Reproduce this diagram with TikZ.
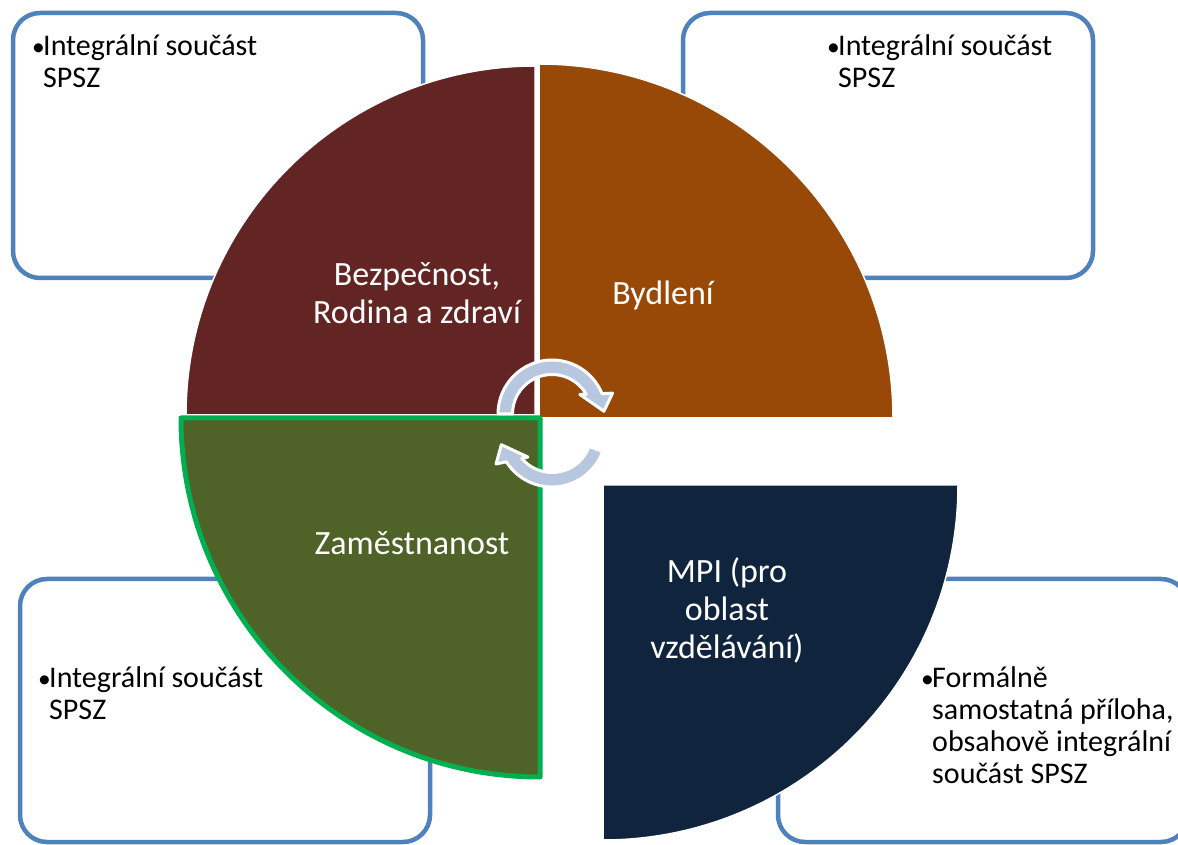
\documentclass[tikz,border=0pt]{standalone}
\usepackage{fontspec}
\setmainfont{Carlito}
\usetikzlibrary{calc}
\definecolor{maroonq}{HTML}{632523}
\definecolor{brownq}{HTML}{984807}
\definecolor{oliveq}{HTML}{4F6228}
\definecolor{greenb}{HTML}{00B050}
\definecolor{navyq}{HTML}{10243E}
\definecolor{boxblue}{HTML}{4F81BD}
\definecolor{arrowlight}{HTML}{B8C7E0}
\tikzset{
  infobox/.style={draw=boxblue, line width=4.5pt, rounded corners=27pt, fill=white},
  quad/.style={draw=white, line width=1.5pt},
  boxtext/.style={anchor=north west, inner sep=0pt, align=left, text=black,
    font=\fontsize{30}{32}\selectfont},
  quadtext/.style={inner sep=0pt, align=center, text=white,
    font=\fontsize{34}{38}\selectfont},
  arrowshape/.style={fill=arrowlight, draw=white, line width=3pt, line join=round},
}
\newcommand{\bul}{\makebox[12pt][l]{\hspace{1pt}\scalebox{0.85}{•}}}
\newcommand{\ind}{\hspace*{12pt}}
% #1 centre coordinate, #2 start (flat end) angle, #3 head angle
\newcommand{\cyclearrow}[3]{%
  \path[arrowshape] ($(#1)+(#2:54)$) arc[start angle=#2, end angle={#3-4.8}, radius=54]
    -- ($(#1)+({#3-8}:64)$) -- ($(#1)+({#3-24}:52)$) -- ($(#1)+({#3+8}:34)$)
    -- ($(#1)+({#3+3}:39.5)$) arc[start angle={#3+3}, end angle=#2, radius=39.5] -- cycle;}
\begin{document}
\begin{tikzpicture}[x=1pt, y=1pt]
\useasboundingbox (0,0) rectangle (1178,844);
\clip (0,0) rectangle (1178,844);
\fill[white] (0,0) rectangle (1178,844);

% corner boxes
\draw[infobox] (13,566) rectangle (423,831);
\draw[infobox] (683,566) rectangle (1093,831);
\draw[infobox] (20,2) rectangle (430,265);
\draw[infobox] (778,2) rectangle (1188,265);

% quadrants
\coordinate (cm) at (535,429);
\coordinate (cb) at (539,426);
\coordinate (cg) at (540,426);
\coordinate (cn) at (603,359);
\path[quad, fill=maroonq] (cm) -- ++(-349,0) arc[start angle=180, end angle=90, radius=349] -- cycle;
\path[quad, fill=brownq] (cb) -- ++(0,354) arc[start angle=90, end angle=0, radius=354] -- cycle;
\path[quad, fill=navyq] (cn) -- ++(355,0) arc[start angle=0, end angle=-90, radius=355] -- cycle;
\path[fill=oliveq, draw=greenb, line width=5pt, line join=round] (cg) -- ++(0,-359) arc[start angle=-90, end angle=-180, radius=359] -- cycle;

% quadrant labels
\node[quadtext, anchor=north] (bez) at (417,585.6) {\strut Bezpečnost,\\Rodina a zdraví};
\node[quadtext, anchor=base] (byd) at (663,539) {Bydlení};
\node[quadtext, anchor=base] (zam) at (412,289) {Zaměstnanost};
\node[quadtext, anchor=north] (mpi) at (727,288.6) {\strut MPI (pro\\oblast\\vzdělávání)};

% box texts
\node[boxtext] (t1) at (31,811.4) {\strut\bul Integrální součást\\\ind SPSZ};
\node[boxtext] (t2) at (826,811.4) {\strut\bul Integrální součást\\\ind SPSZ};
\node[boxtext] (t3) at (37,179.4) {\strut\bul Integrální součást\\\ind SPSZ};
\node[boxtext] (t4) at (920,179.4) {\strut\bul Formálně\\\ind samostatná příloha,\\\ind obsahově integrální\\\ind součást SPSZ};

% circular arrows
\coordinate (ca1) at (552,430);
\coordinate (ca2) at (552,411);
\cyclearrow{ca1}{180}{27}
\cyclearrow{ca2}{-20}{-143}
\end{tikzpicture}
\end{document}
